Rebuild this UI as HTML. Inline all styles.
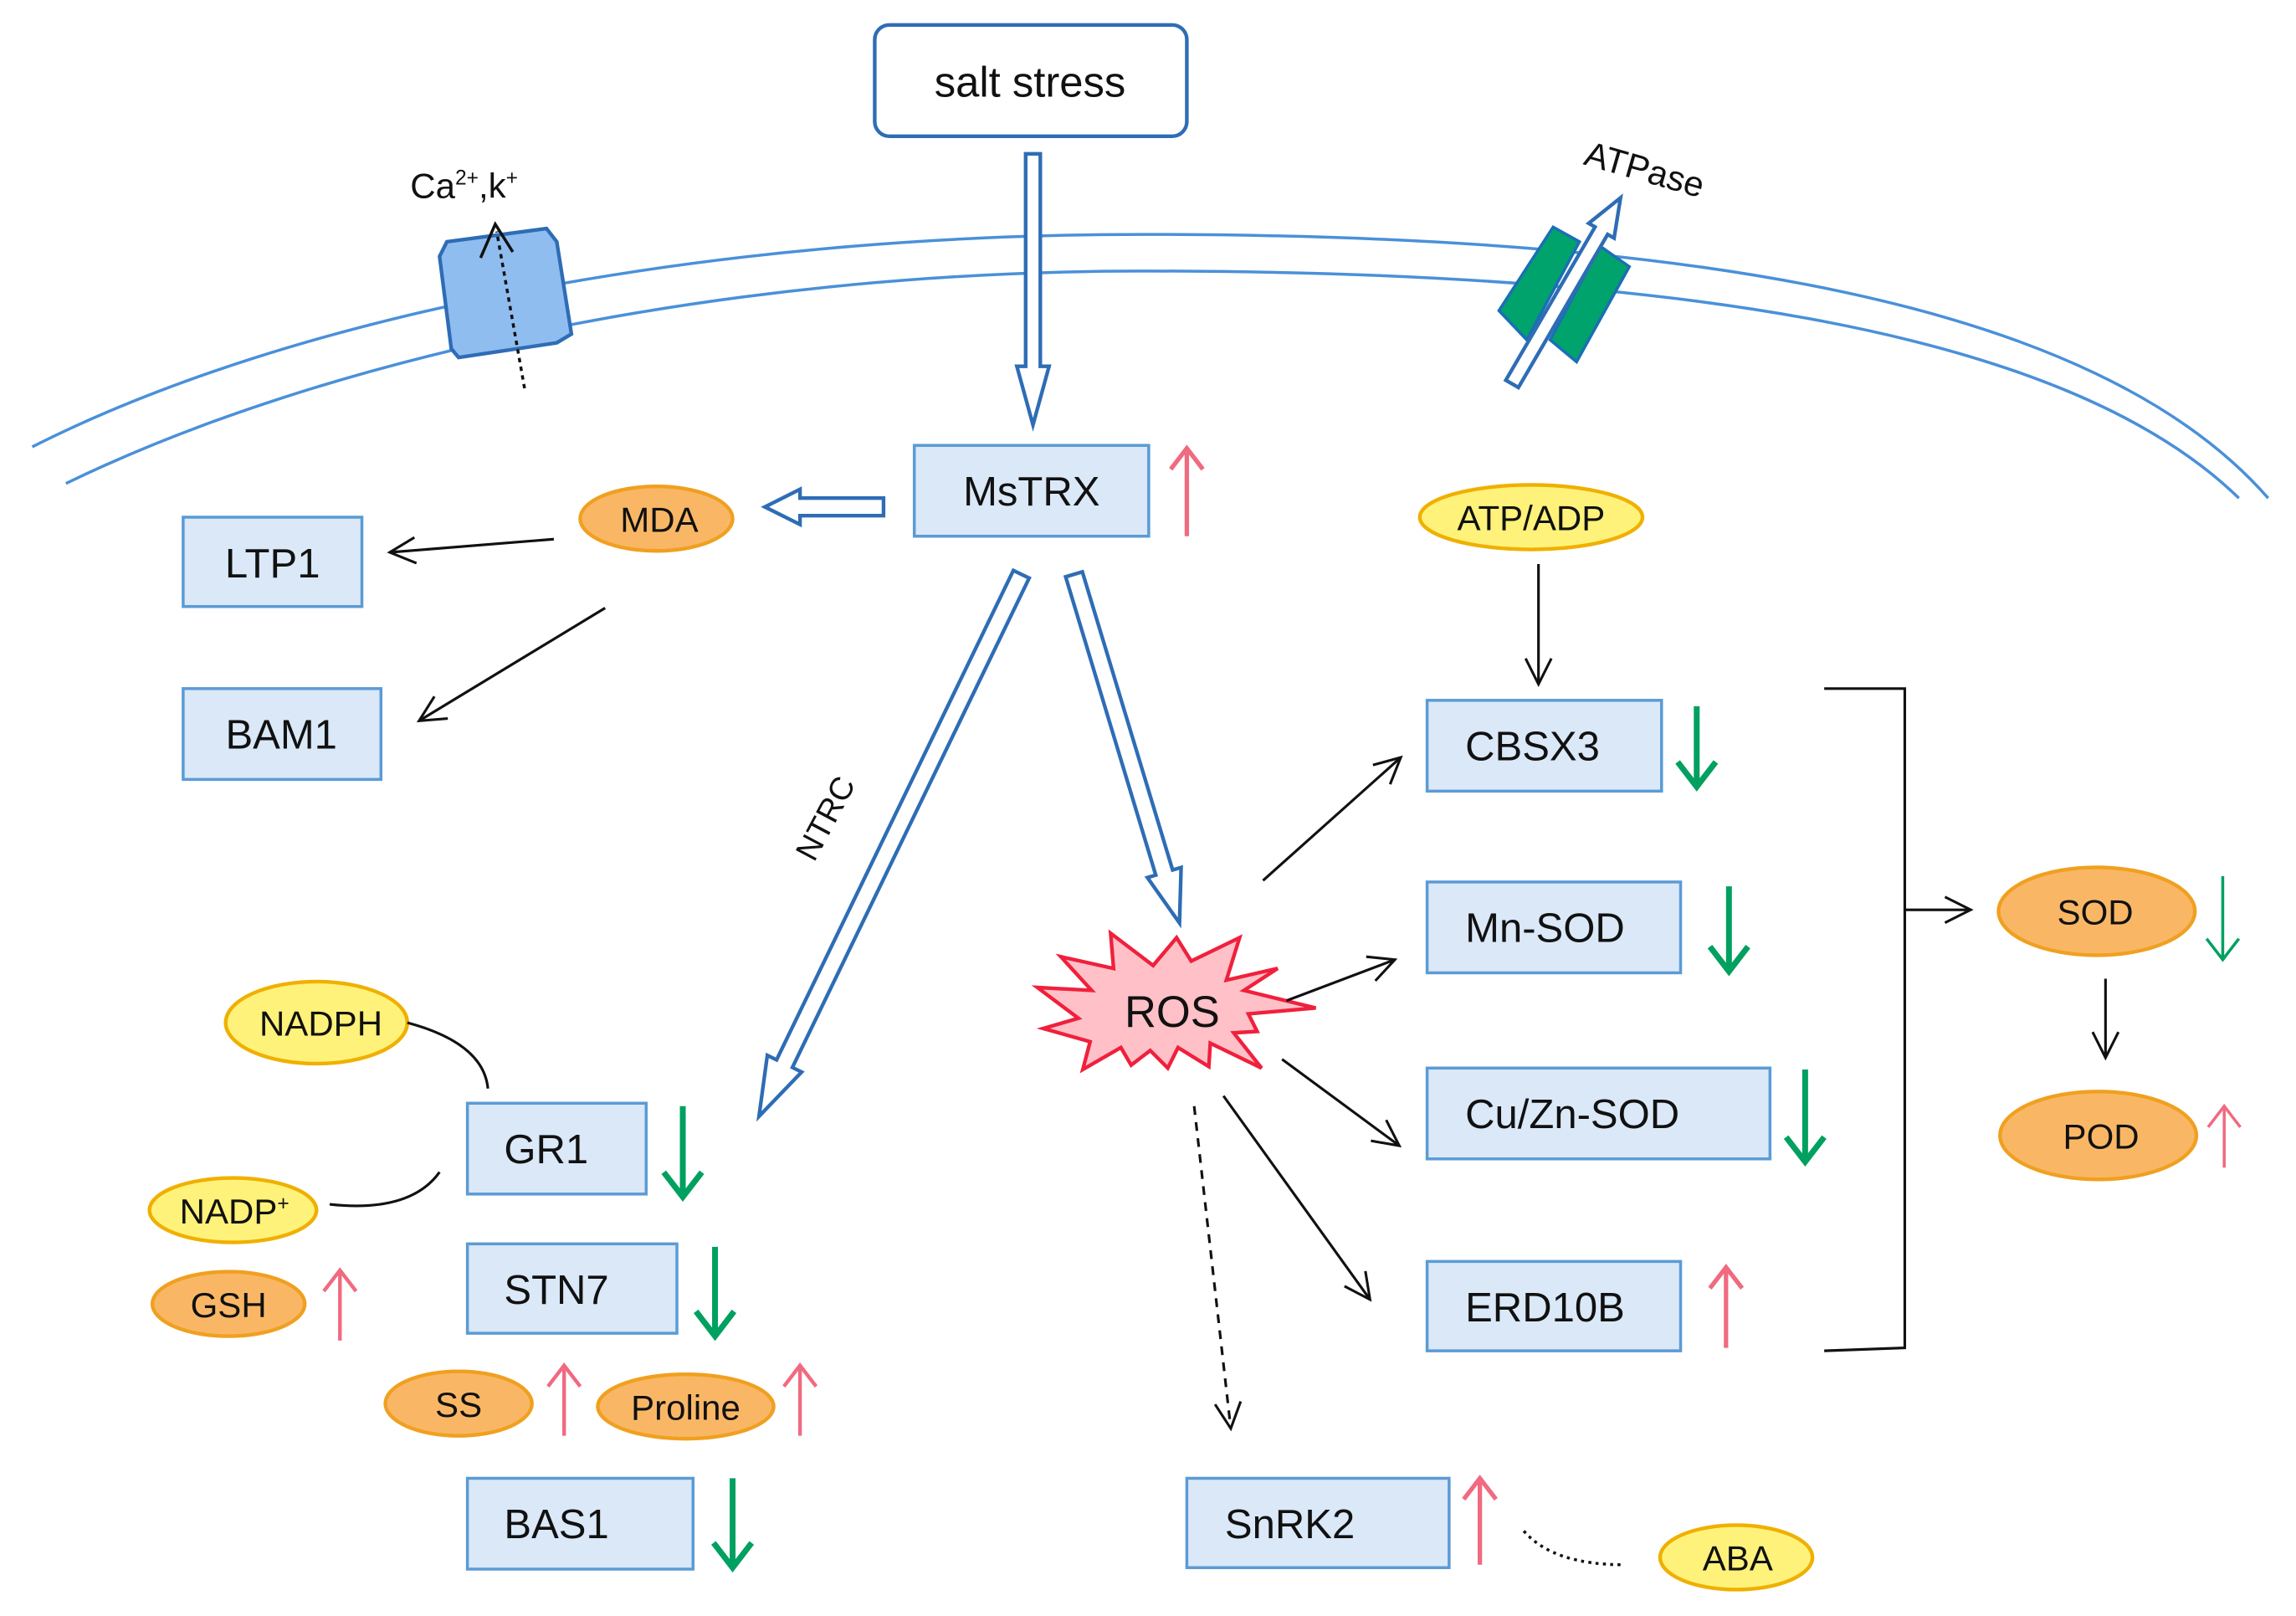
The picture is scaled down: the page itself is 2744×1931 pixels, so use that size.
<!DOCTYPE html>
<html><head><meta charset="utf-8"><style>
html,body{margin:0;padding:0;background:#fff;}
svg{display:block;}
text{font-family:"Liberation Sans",sans-serif;fill:#111;}
</style></head><body>
<svg id="s" width="2744" height="1931" viewBox="0 0 1567 1103" preserveAspectRatio="none" xmlns="http://www.w3.org/2000/svg">
<defs>
<marker id="ahb" viewBox="0 0 20 20" refX="18" refY="10" markerWidth="22" markerHeight="22" markerUnits="userSpaceOnUse" orient="auto"><polyline points="2,2 18,10 2,18" fill="none" stroke="#111" stroke-width="1.6"/></marker>
</defs>
<!-- membrane -->
<path d="M22,305 C200,215 480,160 780,160 C1150,160 1430,205 1548,340" fill="none" stroke="#4a90d9" stroke-width="2"/>
<path d="M45,330 C220,245 490,185 780,185 C1140,185 1410,225 1528,340" fill="none" stroke="#4a90d9" stroke-width="2"/>
<!-- Ca channel -->
<polygon points="300,175 305,165 373,156 380,165 390,228 380,234 313,244 308,238" fill="#90bdf0" stroke="#2e6db5" stroke-width="2.5"/>
<line x1="358" y1="265" x2="339" y2="158" stroke="#111" stroke-width="2" stroke-dasharray="3,3"/>
<polyline points="328,176 338,153 350,172" fill="none" stroke="#111" stroke-width="2"/>
<text x="280" y="135" font-size="24">Ca<tspan font-size="14" dy="-9">2+</tspan><tspan dy="9">,k</tspan><tspan font-size="14" dy="-9">+</tspan></text>
<!-- ATPase -->
<polygon points="1023,212 1060,155 1078,165 1042,232" fill="#00a36b" stroke="#1a6fb5" stroke-width="2"/>
<polygon points="1058,232 1092,168 1112,182 1076,247" fill="#00a36b" stroke="#1a6fb5" stroke-width="2"/>
<text x="1080" y="112" font-size="24" transform="rotate(16 1080 112)">ATPase</text>
<g id="hollow"></g>
<!-- salt stress -->
<rect x="597" y="17" width="213" height="76" rx="10" fill="#fff" stroke="#2e6db5" stroke-width="2.5"/>
<text x="703" y="66" font-size="29" text-anchor="middle">salt stress</text>
<!-- boxes -->
<g fill="#dae8f8" stroke="#5b9bd5" stroke-width="2">
<rect x="624" y="304" width="160" height="62"/>
<rect x="125" y="353" width="122" height="61"/>
<rect x="125" y="470" width="135" height="62"/>
<rect x="974" y="478" width="160" height="62"/>
<rect x="974" y="602" width="173" height="62"/>
<rect x="974" y="729" width="234" height="62"/>
<rect x="974" y="861" width="173" height="61"/>
<rect x="319" y="753" width="122" height="62"/>
<rect x="319" y="849" width="143" height="61"/>
<rect x="319" y="1009" width="154" height="62"/>
<rect x="810" y="1009" width="179" height="61"/>
</g>
<g font-size="28">
<text x="704" y="345" text-anchor="middle">MsTRX</text>
<text x="186" y="394" text-anchor="middle">LTP1</text>
<text x="192" y="511" text-anchor="middle">BAM1</text>
<text x="1000" y="519">CBSX3</text>
<text x="1000" y="643">Mn-SOD</text>
<text x="1000" y="770">Cu/Zn-SOD</text>
<text x="1000" y="902">ERD10B</text>
<text x="344" y="794">GR1</text>
<text x="344" y="890">STN7</text>
<text x="344" y="1050">BAS1</text>
<text x="836" y="1050">SnRK2</text>
</g>
<!-- ellipses -->
<g stroke-width="2.5">
<ellipse cx="448" cy="354" rx="52" ry="22" fill="#f9b766" stroke="#f0a020"/>
<ellipse cx="1045" cy="353" rx="76" ry="22" fill="#fff27a" stroke="#f0b000"/>
<ellipse cx="1431" cy="622" rx="67" ry="30" fill="#f9b766" stroke="#f0a020"/>
<ellipse cx="1432" cy="775" rx="67" ry="30" fill="#f9b766" stroke="#f0a020"/>
<ellipse cx="216" cy="698" rx="62" ry="28" fill="#fff27a" stroke="#f0b000"/>
<ellipse cx="159" cy="826" rx="57" ry="22" fill="#fff27a" stroke="#f0b000"/>
<ellipse cx="156" cy="890" rx="52" ry="22" fill="#f9b766" stroke="#f0a020"/>
<ellipse cx="313" cy="958" rx="50" ry="22" fill="#f9b766" stroke="#f0a020"/>
<ellipse cx="468" cy="960" rx="60" ry="22" fill="#f9b766" stroke="#f0a020"/>
<ellipse cx="1185" cy="1063" rx="52" ry="22" fill="#fff27a" stroke="#f0b000"/>
</g>
<g font-size="24" text-anchor="middle">
<text x="450" y="363">MDA</text>
<text x="1045" y="362">ATP/ADP</text>
<text x="1430" y="631">SOD</text>
<text x="1434" y="784">POD</text>
<text x="219" y="707">NADPH</text>
<text x="160" y="835">NADP<tspan font-size="14" dy="-9">+</tspan></text>
<text x="156" y="899">GSH</text>
<text x="313" y="967">SS</text>
<text x="468" y="969">Proline</text>
<text x="1186" y="1072">ABA</text>
</g>
<!-- ROS -->
<polygon points="708,674 745,676 724,653 760,661 758,637 787,659 803,640 813,656 846,640 837,669 872,661 849,676 898,688 852,692 858,704 842,705 861,729 826,712 825,728 804,715 797,729 785,717 772,727 765,715 739,730 744,711 712,702 736,695" fill="#ffc0c8" stroke="#f0203c" stroke-width="2.5"/>
<text x="800" y="701" font-size="30" text-anchor="middle">ROS</text>
<!-- thin arrows -->
<g stroke="#111" stroke-width="1.8" fill="none" marker-end="url(#ahb)">
<line x1="378" y1="368" x2="266" y2="377"/>
<line x1="413" y1="415" x2="286" y2="492"/>
<line x1="1050" y1="385" x2="1050" y2="467"/>
<line x1="862" y1="601" x2="956" y2="517"/>
<line x1="878" y1="683" x2="952" y2="655"/>
<line x1="875" y1="723" x2="955" y2="782"/>
<line x1="835" y1="748" x2="935" y2="887"/>
<line x1="1300" y1="621" x2="1345" y2="621"/>
<line x1="1437" y1="668" x2="1437" y2="722"/>
<line x1="815" y1="755" x2="840" y2="975" stroke-dasharray="6,5"/>
</g>
<polyline points="1245,470 1300,470 1300,920 1245,922" fill="none" stroke="#111" stroke-width="1.8"/>
<path d="M278,698 Q330,712 333,743" fill="none" stroke="#111" stroke-width="1.8"/>
<path d="M225,822 Q280,828 300,800" fill="none" stroke="#111" stroke-width="1.8"/>
<path d="M1040,1045 Q1060,1068 1108,1068" fill="none" stroke="#111" stroke-width="2" stroke-dasharray="2,3"/>
<text x="570" y="562" font-size="22" transform="rotate(-62 570 562)" text-anchor="middle">NTRC</text>
<g id="ud"></g>
</svg>
<script>
var NS="http://www.w3.org/2000/svg";
function hollow(x1,y1,x2,y2,w,hw,hl){
 var dx=x2-x1,dy=y2-y1,L=Math.hypot(dx,dy),ux=dx/L,uy=dy/L,px=-uy,py=ux;
 var bx=x2-ux*hl,by=y2-uy*hl;
 var p=[[x1+px*w,y1+py*w],[bx+px*w,by+py*w],[bx+px*hw,by+py*hw],[x2,y2],[bx-px*hw,by-py*hw],[bx-px*w,by-py*w],[x1-px*w,y1-py*w]];
 var e=document.createElementNS(NS,"polygon");
 e.setAttribute("points",p.map(function(a){return a[0].toFixed(1)+","+a[1].toFixed(1)}).join(" "));
 e.setAttribute("fill","#fff");e.setAttribute("stroke","#2e6db5");e.setAttribute("stroke-width","2.5");
 document.getElementById("hollow").appendChild(e);
}
hollow(705,105,705,290,5,11,40);
hollow(603,346,522,346,6,12,24);
hollow(697,392,518,762,6,13,40);
hollow(733,392,805,630,6,12,36);
hollow(1032,262,1106,135,5,10,26);
function ud(x,y1,y2,col,w){
 var g=document.getElementById("ud");
 var l=document.createElementNS(NS,"line");
 l.setAttribute("x1",x);l.setAttribute("x2",x);l.setAttribute("y1",y1);l.setAttribute("y2",y2);
 l.setAttribute("stroke",col);l.setAttribute("stroke-width",w);g.appendChild(l);
 var d=(y2>y1)?-1:1,h=w>3?13:11;
 var p=document.createElementNS(NS,"polyline");
 p.setAttribute("points",(x-h)+","+(y2+d*h*1.3)+" "+x+","+y2+" "+(x+h)+","+(y2+d*h*1.3));
 p.setAttribute("fill","none");p.setAttribute("stroke",col);p.setAttribute("stroke-width",w);g.appendChild(p);
}
var G="#00a060",R="#f06a80";
ud(810,366,306,R,3);
ud(1158,482,537,G,4);ud(1180,605,663,G,4);ud(1232,730,793,G,4);ud(1178,920,865,R,3);
ud(1517,598,655,G,2);ud(1518,797,755,R,2);
ud(466,755,817,G,4);ud(488,851,912,G,4);ud(500,1009,1070,G,4);
ud(232,915,867,R,2.5);ud(385,980,932,R,2.5);ud(546,980,932,R,2.5);ud(1010,1068,1009,R,3);
</script>
</body></html>
